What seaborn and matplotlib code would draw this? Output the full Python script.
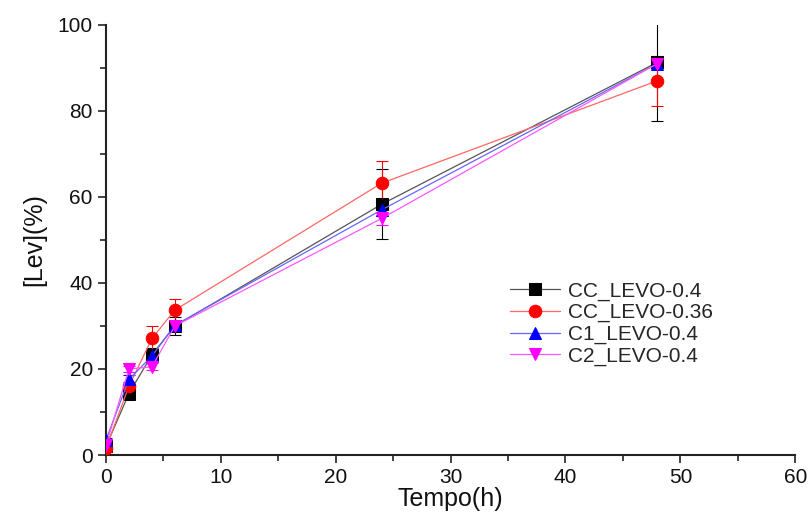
import numpy as np
import pandas as pd
import matplotlib
matplotlib.use("Agg")
import matplotlib.pyplot as plt
import seaborn as sns
from matplotlib.ticker import MultipleLocator

time_h = [0, 2, 4, 6, 24, 48]
series_names = ["CC_LEVO-0.4", "CC_LEVO-0.36", "C1_LEVO-0.4", "C2_LEVO-0.4"]
cc_04 = [2.0, 14.3, 23.3, 30.0, 58.3, 91.3]
cc_036 = [1.6, 16.0, 27.1, 33.7, 63.2, 87.0]
c1_04 = [3.5, 17.6, 23.0, 30.2, 57.0, 91.0]
c2_04 = [2.3, 20.0, 20.5, 30.0, 55.0, 91.0]
cc_04_err = [0.5, 1.0, 1.5, 2.0, 8.1, 13.6]
cc_036_err = [0.4, 1.0, 3.0, 2.6, 5.2, 5.8]
c1_04_err = [0.5, 1.0, 1.0, 1.0, 1.5, 1.0]
c2_04_err = [0.5, 0.8, 0.8, 1.0, 1.5, 1.0]

values = [cc_04, cc_036, c1_04, c2_04]
errors = [cc_04_err, cc_036_err, c1_04_err, c2_04_err]
colors = ["#000000", "#ff0000", "#0000ff", "#ff00ff"]
line_colors = ["#555555", "#ff6666", "#6666ff", "#ff55ff"]
markers = ["s", "o", "^", "v"]

rows = []
for name, vals in zip(series_names, values):
    for t, v in zip(time_h, vals):
        rows.append({"Tempo(h)": t, "Lev": v, "serie": name})
df = pd.DataFrame(rows)

sns.set_style("ticks")
plt.rcParams["font.family"] = ["Liberation Sans", "DejaVu Sans"]

fig = plt.figure(figsize=(8.09, 5.18), dpi=100)
ax = fig.add_axes([0.131, 0.1216, 0.852, 0.8304])

for name, errs, c in zip(series_names, errors, colors):
    sub = df[df["serie"] == name]
    ax.errorbar(sub["Tempo(h)"], sub["Lev"], yerr=errs, fmt="none",
                ecolor=c, elinewidth=0.8, capsize=4, capthick=0.8, zorder=2)

for name, c, lc, m in zip(series_names, colors, line_colors, markers):
    sub = df[df["serie"] == name]
    sns.lineplot(data=sub, x="Tempo(h)", y="Lev", ax=ax, color=lc, linewidth=0.9,
                 marker=m, markersize=9, markerfacecolor=c, markeredgecolor=c,
                 label=name, zorder=3)

ax.set_xlim(0, 60)
ax.set_ylim(0, 100)
ax.xaxis.set_major_locator(MultipleLocator(10))
ax.xaxis.set_minor_locator(MultipleLocator(5))
ax.yaxis.set_major_locator(MultipleLocator(20))
ax.yaxis.set_minor_locator(MultipleLocator(10))
ax.tick_params(which="major", direction="out", length=6, width=1.2, labelsize=15,
               colors="#222222", labelcolor="#111111")
ax.tick_params(which="minor", direction="out", length=4, width=1.2, colors="#222222")
for s in ["top", "right"]:
    ax.spines[s].set_visible(False)
for s in ["left", "bottom"]:
    ax.spines[s].set_linewidth(1.5)
    ax.spines[s].set_color("#222222")

ax.set_xlabel("Tempo(h)", fontsize=18, labelpad=0, color="#111111")
ax.set_ylabel("[Lev](%)", fontsize=18, labelpad=8, color="#111111")

leg = ax.legend(loc="upper left", bbox_to_anchor=(0.559, 0.447), frameon=False,
                fontsize=15, handlelength=2.4, labelspacing=0.12, handletextpad=0.4)

fig.savefig("out.png", dpi=100)
